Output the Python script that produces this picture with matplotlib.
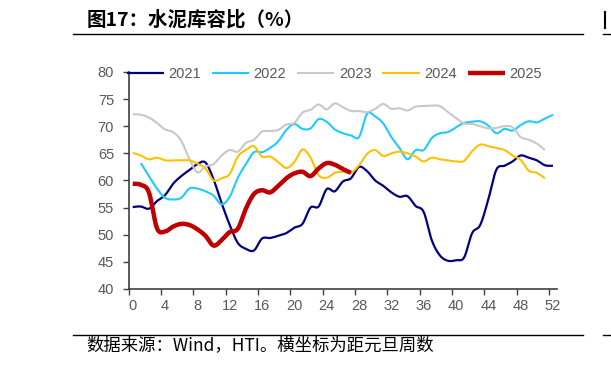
import numpy as np
import matplotlib.pyplot as plt

plt.rcParams['font.family'] = ['Liberation Sans', 'Noto Sans CJK SC', 'DejaVu Sans']

# 距元旦周数 (0..52)
weeks = np.arange(53)

y2021 = [55.1, 55.2, 54.8, 56.2, 57.3, 59.4, 60.8, 61.9, 63.0, 63.3,
         60.2, 55.8, 51.8, 48.5, 47.4, 47.1, 49.3, 49.4, 49.8, 50.3,
         51.3, 52.0, 55.0, 55.2, 58.4, 58.0, 59.8, 60.4, 62.5, 61.7,
         60.0, 59.0, 57.8, 57.0, 57.1, 55.3, 54.2, 49.0, 46.2, 45.2,
         45.3, 45.8, 50.3, 51.8, 56.5, 62.0, 62.7, 63.5, 64.6, 64.2,
         63.7, 62.8, 62.7]
# 2022 starts at week 1
y2022 = [63.2, 60.8, 58.5, 56.8, 56.5, 56.8, 58.5, 58.5, 58.0,
         57.2, 55.6, 57.0, 60.5, 63.0, 65.2, 65.2, 66.0, 67.2, 69.3,
         70.4, 69.5, 69.6, 71.3, 70.8, 69.4, 68.7, 68.3, 68.0, 72.3,
         71.8, 70.5, 68.0, 66.0, 63.9, 65.6, 65.6, 67.8, 68.7, 68.9,
         69.8, 70.6, 70.8, 70.9, 70.1, 68.7, 69.5, 69.2, 70.2, 70.9,
         70.7, 71.4, 72.1]
y2023 = [72.2, 72.1, 71.6, 70.6, 69.4, 68.9, 67.3, 64.0, 61.5, 62.6,
         63.0, 64.6, 65.6, 65.3, 66.9, 67.5, 69.0, 69.1, 69.3, 70.3,
         70.6, 72.5, 73.0, 74.0, 73.1, 74.2, 73.5, 72.8, 72.8, 72.6,
         73.2, 74.1, 73.2, 73.3, 72.9, 73.6, 73.7, 73.8, 73.7, 72.6,
         71.5, 70.5, 70.4, 70.0, 69.6, 69.7, 70.0, 69.8, 68.0, 67.5,
         66.8, 65.6]
y2024 = [65.1, 64.6, 63.9, 64.2, 63.7, 63.7, 63.7, 63.7, 63.1, 62.2,
         60.0, 60.4, 61.2, 64.4, 65.6, 66.3, 64.4, 64.4, 63.4, 62.3,
         63.4, 65.7, 64.2, 61.0, 60.5, 61.4, 61.6, 61.4, 62.8, 64.9,
         65.6, 64.5, 65.0, 65.3, 65.0, 64.4, 63.5, 64.2, 63.9, 63.7,
         63.5, 63.6, 65.4, 66.6, 66.3, 66.0, 65.6, 64.6, 63.8, 61.8,
         61.4, 60.4]
y2025 = [59.4, 59.2, 57.8, 51.2, 50.6, 51.5, 52.0, 51.8, 51.0, 49.8,
         48.0, 49.0, 50.5, 51.1, 54.8, 57.5, 58.2, 57.8, 59.0, 60.4,
         61.3, 61.6, 60.8, 62.2, 63.2, 62.9, 62.1, 61.4]

series = [
    ('2021', weeks[:len(y2021)], y2021, '#000080', 1.6),
    ('2022', weeks[1:1 + len(y2022)], y2022, '#1ECBFF', 1.5),
    ('2023', weeks[:len(y2023)], y2023, '#C8C8C8', 1.5),
    ('2024', weeks[:len(y2024)], y2024, '#FFC000', 1.5),
    ('2025', weeks[:len(y2025)], y2025, '#C00000', 3.2),
]


def smooth(x, y, n=16):
    # Catmull-Rom, close to Excel's smoothed line
    x = np.asarray(x, float)
    y = np.asarray(y, float)
    px = np.concatenate([[2 * x[0] - x[1]], x, [2 * x[-1] - x[-2]]])
    py = np.concatenate([[2 * y[0] - y[1]], y, [2 * y[-1] - y[-2]]])
    t = np.linspace(0, 1, n, endpoint=False)
    xs, ys = [], []
    for i in range(1, len(px) - 2):
        for p, out in ((px, xs), (py, ys)):
            p0, p1, p2, p3 = p[i - 1], p[i], p[i + 1], p[i + 2]
            out.append(0.5 * (2 * p1 + (-p0 + p2) * t
                              + (2 * p0 - 5 * p1 + 4 * p2 - p3) * t ** 2
                              + (-p0 + 3 * p1 - 3 * p2 + p3) * t ** 3))
    xs.append([x[-1]])
    ys.append([y[-1]])
    return np.concatenate(xs), np.concatenate(ys)


fig = plt.figure(figsize=(6.11, 3.68), dpi=100)
ax = fig.add_axes([128.7 / 611, 1 - 289 / 368, (557 - 128.7) / 611, (289 - 71.9) / 368])

for name, x, y, c, lw in series:
    sx, sy = smooth(np.asarray(x) + 0.5, y)
    ax.plot(sx, sy, color=c, lw=lw, label=name, solid_capstyle='butt')

ax.set_xlim(0, 53)
ax.set_ylim(40, 80)
ax.set_yticks(np.arange(40, 81, 5))
ax.set_xticks(np.arange(0, 53, 4) + 0.5)
ax.set_xticklabels([str(v) for v in range(0, 53, 4)])
ax.set_xticks(np.arange(0, 53, 4), minor=True)
ax.tick_params(axis='x', which='major', length=0, pad=7, labelsize=10.5, labelcolor='#595959')
ax.tick_params(axis='x', which='minor', length=4, width=1, color='#404040')
ax.tick_params(axis='y', length=4, width=1, color='#404040', pad=6.5,
               labelsize=10.5, labelcolor='#595959')
for s in ('top', 'right'):
    ax.spines[s].set_visible(False)
for s in ('left', 'bottom'):
    ax.spines[s].set_color('#404040')
    ax.spines[s].set_linewidth(1.2)

fig.legend(loc='center left', bbox_to_anchor=(127 / 611, 1 - 74 / 368), ncol=5,
           frameon=False, fontsize=10.5, handlelength=2.55, handletextpad=0.3,
           columnspacing=0.75, borderpad=0, borderaxespad=0, labelcolor='#595959')

# title and source
fig.text(87 / 611, 1 - 19.5 / 368, '图17：水泥库容比（%）', fontsize=14, fontweight='bold',
         family=['Noto Sans CJK SC'], va='center', ha='left')
fig.add_artist(plt.Line2D([73 / 611, 583 / 611], [1 - 33.5 / 368] * 2, color='black', lw=1))
# edge of the neighbouring chart
fig.add_artist(plt.Line2D([603 / 611, 1.2], [1 - 33.5 / 368] * 2, color='black', lw=1))
fig.add_artist(plt.Line2D([605 / 611] * 2, [1 - 12 / 368, 1 - 28 / 368], color='black', lw=1.5))
fig.add_artist(plt.Line2D([73 / 611, 583 / 611], [1 - 334.5 / 368] * 2, color='black', lw=1))
fig.add_artist(plt.Line2D([603 / 611, 1.2], [1 - 334.5 / 368] * 2, color='black', lw=1))
fig.text(86 / 611, 1 - 345.5 / 368, '数据来源：Wind，HTI。横坐标为距元旦周数', fontsize=12.5,
         family=['Noto Sans CJK SC', 'DejaVu Sans'], va='center', ha='left')

fig.savefig('out.png', dpi=100)
